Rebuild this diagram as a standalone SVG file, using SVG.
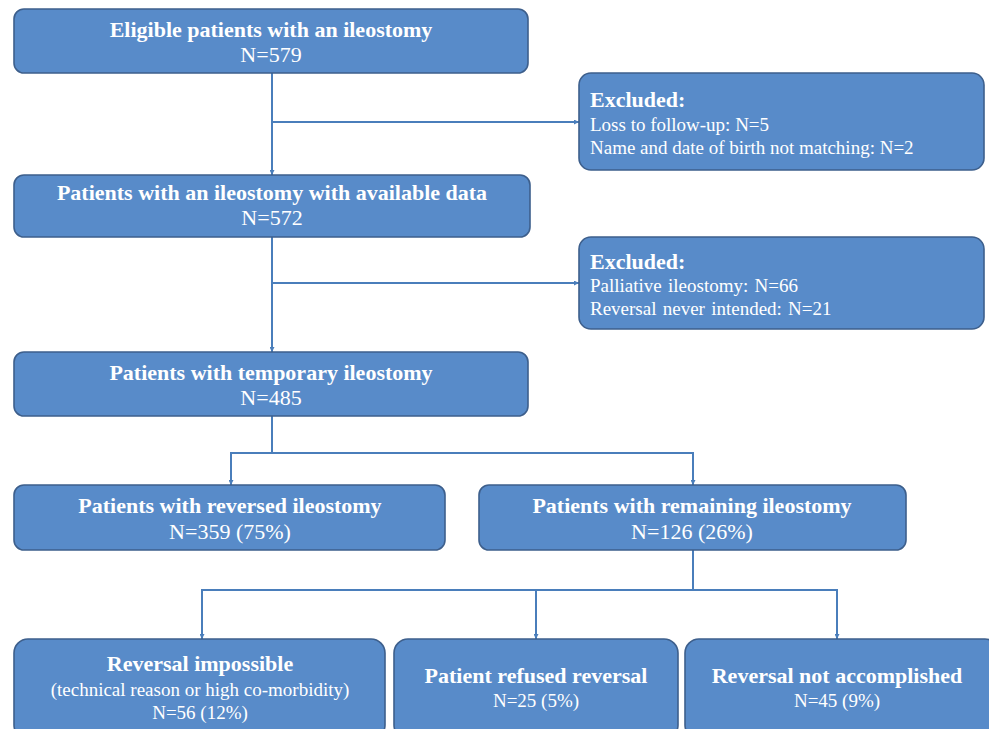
<svg xmlns="http://www.w3.org/2000/svg" width="989" height="729" viewBox="0 0 989 729">
<defs>
<style>
.box{fill:#588BC9;stroke:#3D5F8C;stroke-width:1.6}
.t{font-family:"Liberation Serif","Times New Roman",serif;fill:#FFFFFF}
.b{font-weight:bold;font-size:22px}
.n{font-size:22px}
.s{font-size:19px}
.c{text-anchor:middle}
.ln{fill:none;stroke:#4A7EBB;stroke-width:2}
</style>
<marker id="ah" viewBox="0 0 8 8" refX="8" refY="4" markerWidth="5" markerHeight="5" orient="auto" markerUnits="userSpaceOnUse">
<path d="M0,0 L8,4 L0,8 z" fill="#4A7EBB"/>
</marker>
</defs>
<rect width="989" height="729" fill="#FFFFFF"/>
<g id="connectors">
<line class="ln" x1="272" y1="73" x2="272" y2="175" marker-end="url(#ah)"/>
<line class="ln" x1="272" y1="122" x2="579" y2="122" marker-end="url(#ah)"/>
<line class="ln" x1="272" y1="237" x2="272" y2="352" marker-end="url(#ah)"/>
<line class="ln" x1="272" y1="283" x2="579" y2="283" marker-end="url(#ah)"/>
<line class="ln" x1="272" y1="416" x2="272" y2="453"/>
<polyline class="ln" points="231,453 693,453"/>
<line class="ln" x1="231" y1="452" x2="231" y2="485" marker-end="url(#ah)"/>
<line class="ln" x1="693" y1="452" x2="693" y2="485" marker-end="url(#ah)"/>
<line class="ln" x1="693" y1="550" x2="693" y2="590"/>
<polyline class="ln" points="202,590 837,590"/>
<line class="ln" x1="202" y1="589" x2="202" y2="639" marker-end="url(#ah)"/>
<line class="ln" x1="536" y1="589" x2="536" y2="639" marker-end="url(#ah)"/>
<line class="ln" x1="837" y1="589" x2="837" y2="639" marker-end="url(#ah)"/>
</g>
<g id="n1">
<rect class="box" x="14" y="9" width="514" height="64" rx="10"/>
<text class="t b c" x="271" y="37">Eligible patients with an ileostomy</text>
<text class="t n c" x="271" y="62">N=579</text>
</g>
<g id="ex1">
<rect class="box" x="579" y="73" width="405" height="97" rx="12"/>
<text class="t b" x="590" y="107">Excluded:</text>
<text class="t s" x="590" y="131">Loss to follow-up: N=5</text>
<text class="t s" x="590" y="154">Name and date of birth not matching: N=2</text>
</g>
<g id="n2">
<rect class="box" x="14" y="175" width="516" height="62" rx="10"/>
<text class="t b c" x="272" y="200">Patients with an ileostomy with available data</text>
<text class="t n c" x="272" y="225">N=572</text>
</g>
<g id="ex2">
<rect class="box" x="579" y="237" width="405" height="92" rx="12"/>
<text class="t b" x="590" y="269">Excluded:</text>
<text class="t s" x="590" y="292" word-spacing="1.5">Palliative ileostomy: N=66</text>
<text class="t s" x="590" y="315" word-spacing="1.5">Reversal never intended: N=21</text>
</g>
<g id="n3">
<rect class="box" x="14" y="352" width="514" height="64" rx="10"/>
<text class="t b c" x="271" y="380">Patients with temporary ileostomy</text>
<text class="t n c" x="271" y="405">N=485</text>
</g>
<g id="n4">
<rect class="box" x="14" y="485" width="431" height="65" rx="10"/>
<text class="t b c" x="230" y="513">Patients with reversed ileostomy</text>
<text class="t n c" x="230" y="539">N=359 (75%)</text>
</g>
<g id="n5">
<rect class="box" x="479" y="485" width="427" height="65" rx="10"/>
<text class="t b c" x="692" y="513">Patients with remaining ileostomy</text>
<text class="t n c" x="692" y="539">N=126 (26%)</text>
</g>
<g id="n6">
<rect class="box" x="14" y="639" width="371" height="100" rx="14"/>
<text class="t b c" x="200" y="671">Reversal impossible</text>
<text class="t s c" x="200" y="696">(technical reason or high co-morbidity)</text>
<text class="t s c" x="200" y="719">N=56 (12%)</text>
</g>
<g id="n7">
<rect class="box" x="394" y="639" width="284" height="100" rx="14"/>
<text class="t b c" x="536" y="683">Patient refused reversal</text>
<text class="t s c" x="536" y="707">N=25 (5%)</text>
</g>
<g id="n8">
<rect class="box" x="685" y="639" width="314" height="100" rx="14"/>
<text class="t b c" x="837" y="683">Reversal not accomplished</text>
<text class="t s c" x="837" y="707">N=45 (9%)</text>
</g>
</svg>
